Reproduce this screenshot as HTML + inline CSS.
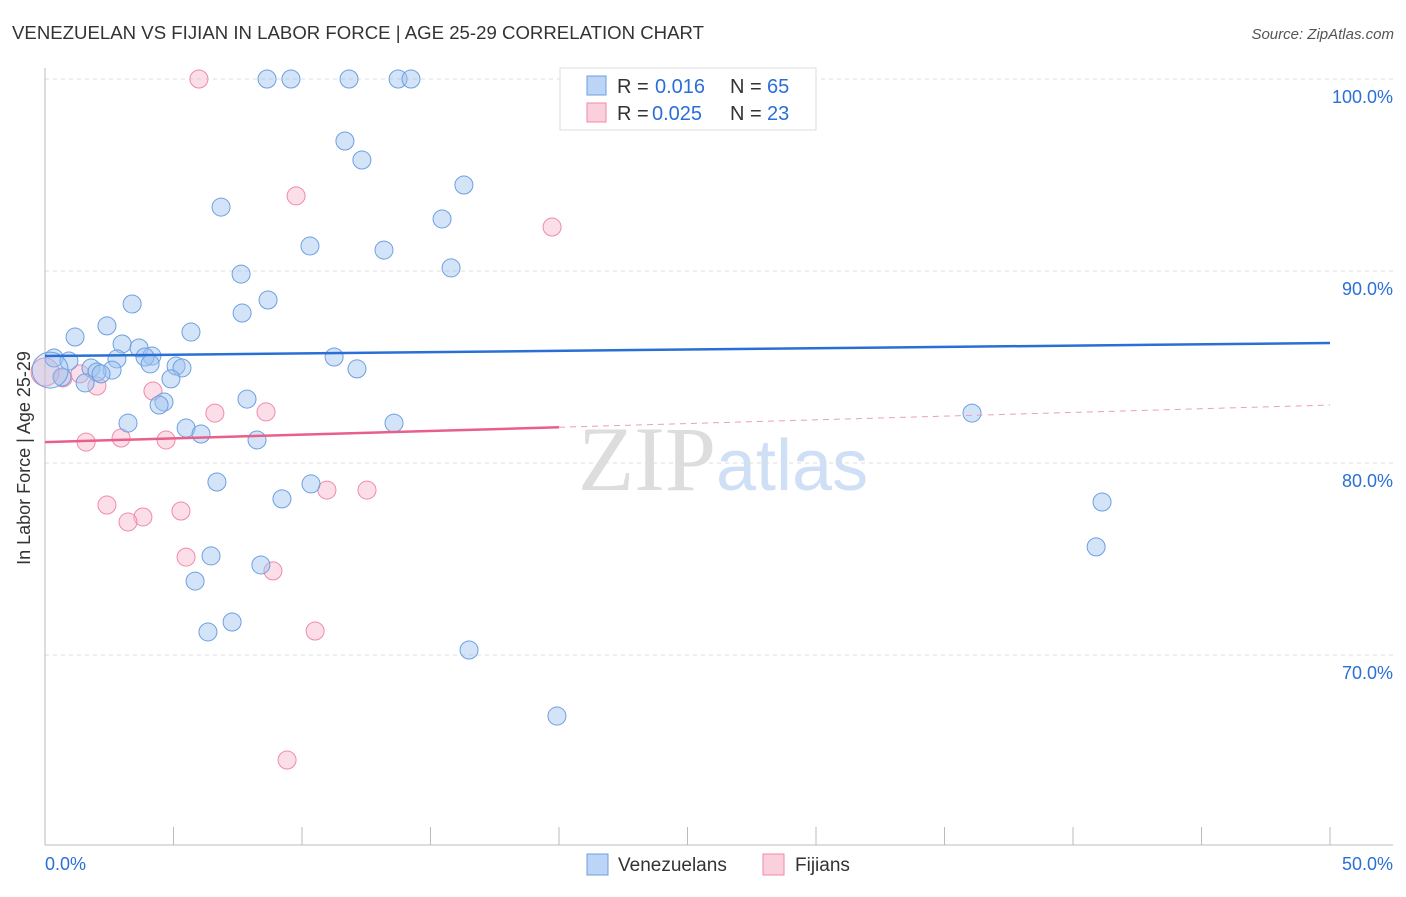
<!DOCTYPE html>
<html><head><meta charset="utf-8"><style>
body{margin:0;background:#fff;font-family:"Liberation Sans",sans-serif}
</style></head><body>
<svg width="1406" height="892" xmlns="http://www.w3.org/2000/svg" font-family="Liberation Sans, sans-serif">
<text x="12" y="39" font-size="18.6" fill="#333" textLength="692">VENEZUELAN VS FIJIAN IN LABOR FORCE | AGE 25-29 CORRELATION CHART</text>
<text x="1394" y="39" font-size="15" fill="#555" font-style="italic" text-anchor="end">Source: ZipAtlas.com</text>
<text x="716" y="490" font-size="92" fill="#ddd" font-family="Liberation Serif, serif" text-anchor="end">ZIP</text>
<text x="716" y="490" font-size="72" fill="#cfdff5">atlas</text>
<g id="grid"></g>
<g id="axes"></g>
<g id="marks"></g>
<text x="30" y="458" font-size="18" fill="#333" text-anchor="middle" transform="rotate(-90 30 458)">In Labor Force | Age 25-29</text>
<g>
<rect x="560" y="68" width="256" height="62" fill="#fff" stroke="#ddd"/>
<rect x="587" y="76" width="19" height="19" fill="#bcd4f5" stroke="#6d9fe0"/>
<rect x="587" y="103" width="19" height="19" fill="#fbd0dd" stroke="#f08aa8"/>
<text x="617" y="93" font-size="20" fill="#333">R =</text>
<text x="655" y="93" font-size="20" fill="#2a6fd6">0.016</text>
<text x="730" y="93" font-size="20" fill="#333">N =</text>
<text x="767" y="93" font-size="20" fill="#2a6fd6">65</text>
<text x="617" y="120" font-size="20" fill="#333">R =</text>
<text x="652" y="120" font-size="20" fill="#2a6fd6">0.025</text>
<text x="730" y="120" font-size="20" fill="#333">N =</text>
<text x="767" y="120" font-size="20" fill="#2a6fd6">23</text>
</g>
<g>
<rect x="587" y="854" width="21" height="21" fill="#bcd4f5" stroke="#6d9fe0"/>
<text x="618" y="871" font-size="19" fill="#333">Venezuelans</text>
<rect x="763" y="854" width="21" height="21" fill="#fbd0dd" stroke="#f08aa8"/>
<text x="795" y="871" font-size="19" fill="#333">Fijians</text>
</g>
</svg>
<script>
const blueX=[8.64,9.57,11.83,13.74,14.24,11.67,12.33,16.30,6.85,15.45,10.31,13.19,15.80,7.63,8.68,3.39,7.67,2.41,5.68,1.17,3.00,3.66,0.35,4.16,3.89,2.80,0.93,11.25,4.09,5.10,5.33,1.79,2.61,12.14,2.02,2.18,0.66,4.90,1.56,7.86,4.63,4.44,3.23,13.58,5.49,6.07,8.25,36.07,6.69,10.35,9.22,41.13,6.46,8.40,5.84,40.90,7.28,6.34,16.50,19.92,0.2];
const blueY=[100,100,100,100,100,96.77,95.78,94.48,93.33,92.71,91.30,91.09,90.16,89.84,88.49,88.28,87.81,87.14,86.82,86.56,86.20,85.99,85.47,85.57,85.52,85.42,85.31,85.52,85.16,85.05,84.95,84.95,84.84,84.90,84.74,84.64,84.48,84.38,84.17,83.33,83.18,83.02,82.08,82.08,81.82,81.51,81.20,82.60,79.01,78.91,78.13,77.97,75.16,74.69,73.85,75.63,71.72,71.20,70.26,66.82,84.84];
const pinkX=[5.99,9.77,19.73,0.70,1.36,2.02,4.20,6.61,8.60,2.96,1.60,4.71,2.41,3.81,3.23,5.29,10.97,12.53,5.49,8.87,10.51,9.42,0];
const pinkY=[100,93.91,92.29,84.43,84.64,84.01,83.75,82.60,82.66,81.30,81.09,81.20,77.81,77.19,76.93,77.50,78.59,78.59,75.10,74.38,71.25,64.53,84.74];
const yTicks=[100,90,80,70];
const xTickLabels=["0.0%","50.0%"];
const blueTrend=[85.57,86.25];
const pinkTrend=[81.09,83.02];
const NS="http://www.w3.org/2000/svg";
const X=v=>45+v*25.7, Y=v=>79+(100-v)*19.2;
function mk(t,a,p){const e=document.createElementNS(NS,t);for(const k in a)e.setAttribute(k,a[k]);p.appendChild(e);return e;}
const grid=document.getElementById('grid'),axes=document.getElementById('axes'),marks=document.getElementById('marks');
yTicks.forEach(t=>{
 const l=mk('line',{x1:45,x2:1393,y1:Y(t),y2:Y(t),stroke:'#ddd','stroke-dasharray':'4,4'},grid);
 
 
 const tx=mk('text',{x:1393,y:Y(t)+24,'font-size':18,fill:'#2a6fd6','text-anchor':'end'},axes);
 tx.textContent=t.toFixed(1)+'%';
 
 
});
mk('line',{x1:45,x2:45,y1:68,y2:845,stroke:'#bbb'},axes);
mk('line',{x1:45,x2:1393,y1:845,y2:845,stroke:'#bbb'},axes);
for(let i=0;i<=10;i++){const t=mk('line',{x1:X(i*5),x2:X(i*5),y1:827,y2:845,stroke:'#bbb'},axes);
 
 }
[[0,'start',45],[50,'end',1393]].forEach((o,i)=>{const t=mk('text',{x:o[2],y:870,'font-size':18,fill:'#2a6fd6','text-anchor':o[1]},axes);t.textContent=xTickLabels[i];
 
 });
pinkX.forEach((x,i)=>{const c=mk('circle',{cx:X(x),cy:Y(pinkY[i]),r:i==pinkX.length-1?14:9,fill:'rgba(248,182,204,0.45)',stroke:'#f08aa8','stroke-width':1},marks);
 
 });
blueX.forEach((x,i)=>{const c=mk('circle',{cx:X(x),cy:Y(blueY[i]),r:i==blueX.length-1?18:9,fill:i==blueX.length-1?'rgba(160,196,240,0.3)':'rgba(160,196,240,0.45)',stroke:'#6d9fe0','stroke-width':1},marks);
 
 });
const bt=mk('line',{x1:X(0),x2:X(50),y1:Y(blueTrend[0]),y2:Y(blueTrend[1]),stroke:'#2a6fd6','stroke-width':2.5},marks);


const pm=pinkTrend[0]+(pinkTrend[1]-pinkTrend[0])*20/50;
const pt=mk('line',{x1:X(0),x2:X(20),y1:Y(pinkTrend[0]),y2:Y(pm),stroke:'#e8608a','stroke-width':2.5},marks);


const pd=mk('line',{x1:X(20),x2:X(50),y1:Y(pm),y2:Y(pinkTrend[1]),stroke:'#e8a0b8','stroke-width':1,'stroke-dasharray':'6,5'},marks);


</script>
</body></html>
